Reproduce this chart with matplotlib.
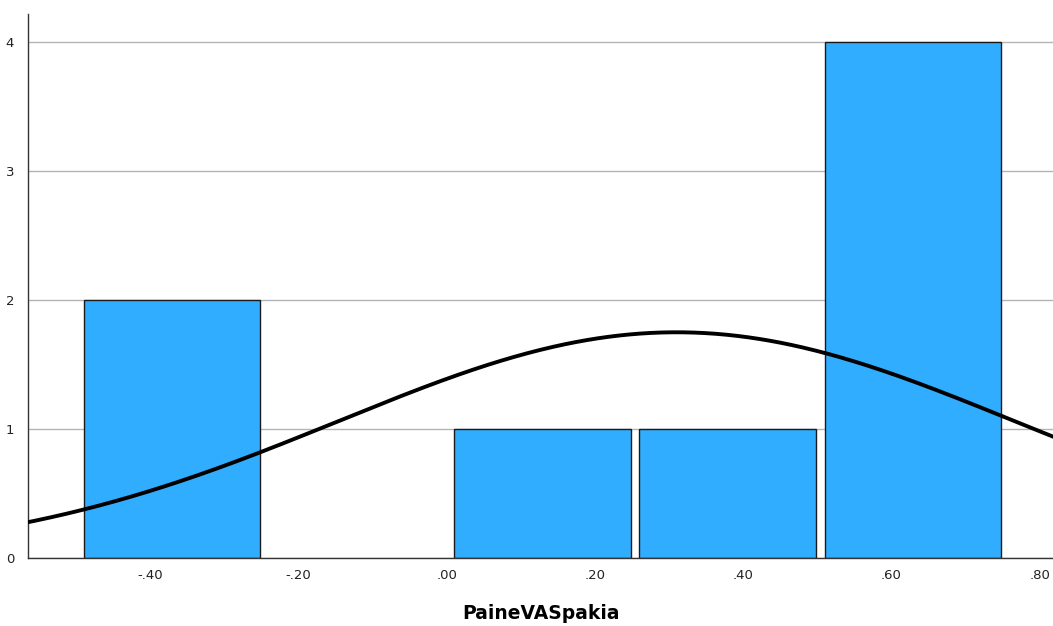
import numpy as np
import matplotlib.pyplot as plt

# histogram of PaineVASpakia (SPSS style)
bin_edges = [-0.50, -0.25, 0.00, 0.25, 0.50, 0.75]
counts = [2, 0, 1, 1, 4]
x_ticks = [-0.40, -0.20, 0.00, 0.20, 0.40, 0.60, 0.80]
x_labels = ["-.40", "-.20", ".00", ".20", ".40", ".60", ".80"]
y_ticks = [0, 1, 2, 3, 4]

# normal curve parameters
n_obs = 8
curve_mean = 0.31
curve_sd = 0.456

fig = plt.figure(figsize=(10.53, 6.26), dpi=100)
ax = fig.add_axes([28 / 1053, 1 - 558 / 626, 1 - 28 / 1053, (558 - 14) / 626])

left = np.array(bin_edges[:-1])
width = np.diff(bin_edges)
gap = 0.012
# skip empty bins so no flat outline is drawn
keep = np.array(counts) > 0
ax.bar(left[keep] + gap / 2 + 0.004, np.array(counts)[keep], width=width[keep] - gap,
       align="edge", color="#31adff", edgecolor="#1a1a1a", linewidth=1.0, zorder=2)

xs = np.linspace(-0.6, 0.85, 400)
bw = width[0]
ys = n_obs * bw / (curve_sd * np.sqrt(2 * np.pi)) * np.exp(-0.5 * ((xs - curve_mean) / curve_sd) ** 2)
ax.plot(xs, ys, color="black", linewidth=2.8, zorder=3)

ax.set_xlim(-0.565, 0.818)
ax.set_ylim(0, 4.217)
ax.set_xticks(x_ticks)
ax.set_xticklabels(x_labels)
ax.set_yticks(y_ticks)
ax.tick_params(length=0, labelsize=9.5, colors="#222222", pad=8)
ax.tick_params(axis="y", pad=10)
ax.yaxis.grid(True, color="#b4b4b4", linewidth=1.0, zorder=1)
ax.set_axisbelow(True)
for s in ["top", "right"]:
    ax.spines[s].set_visible(False)
for s in ["left", "bottom"]:
    ax.spines[s].set_color("#333333")
    ax.spines[s].set_linewidth(1.0)

ax.set_xlabel("PaineVASpakia", fontsize=13.5, fontweight="bold", labelpad=16)

fig.savefig("out.png", dpi=100)
